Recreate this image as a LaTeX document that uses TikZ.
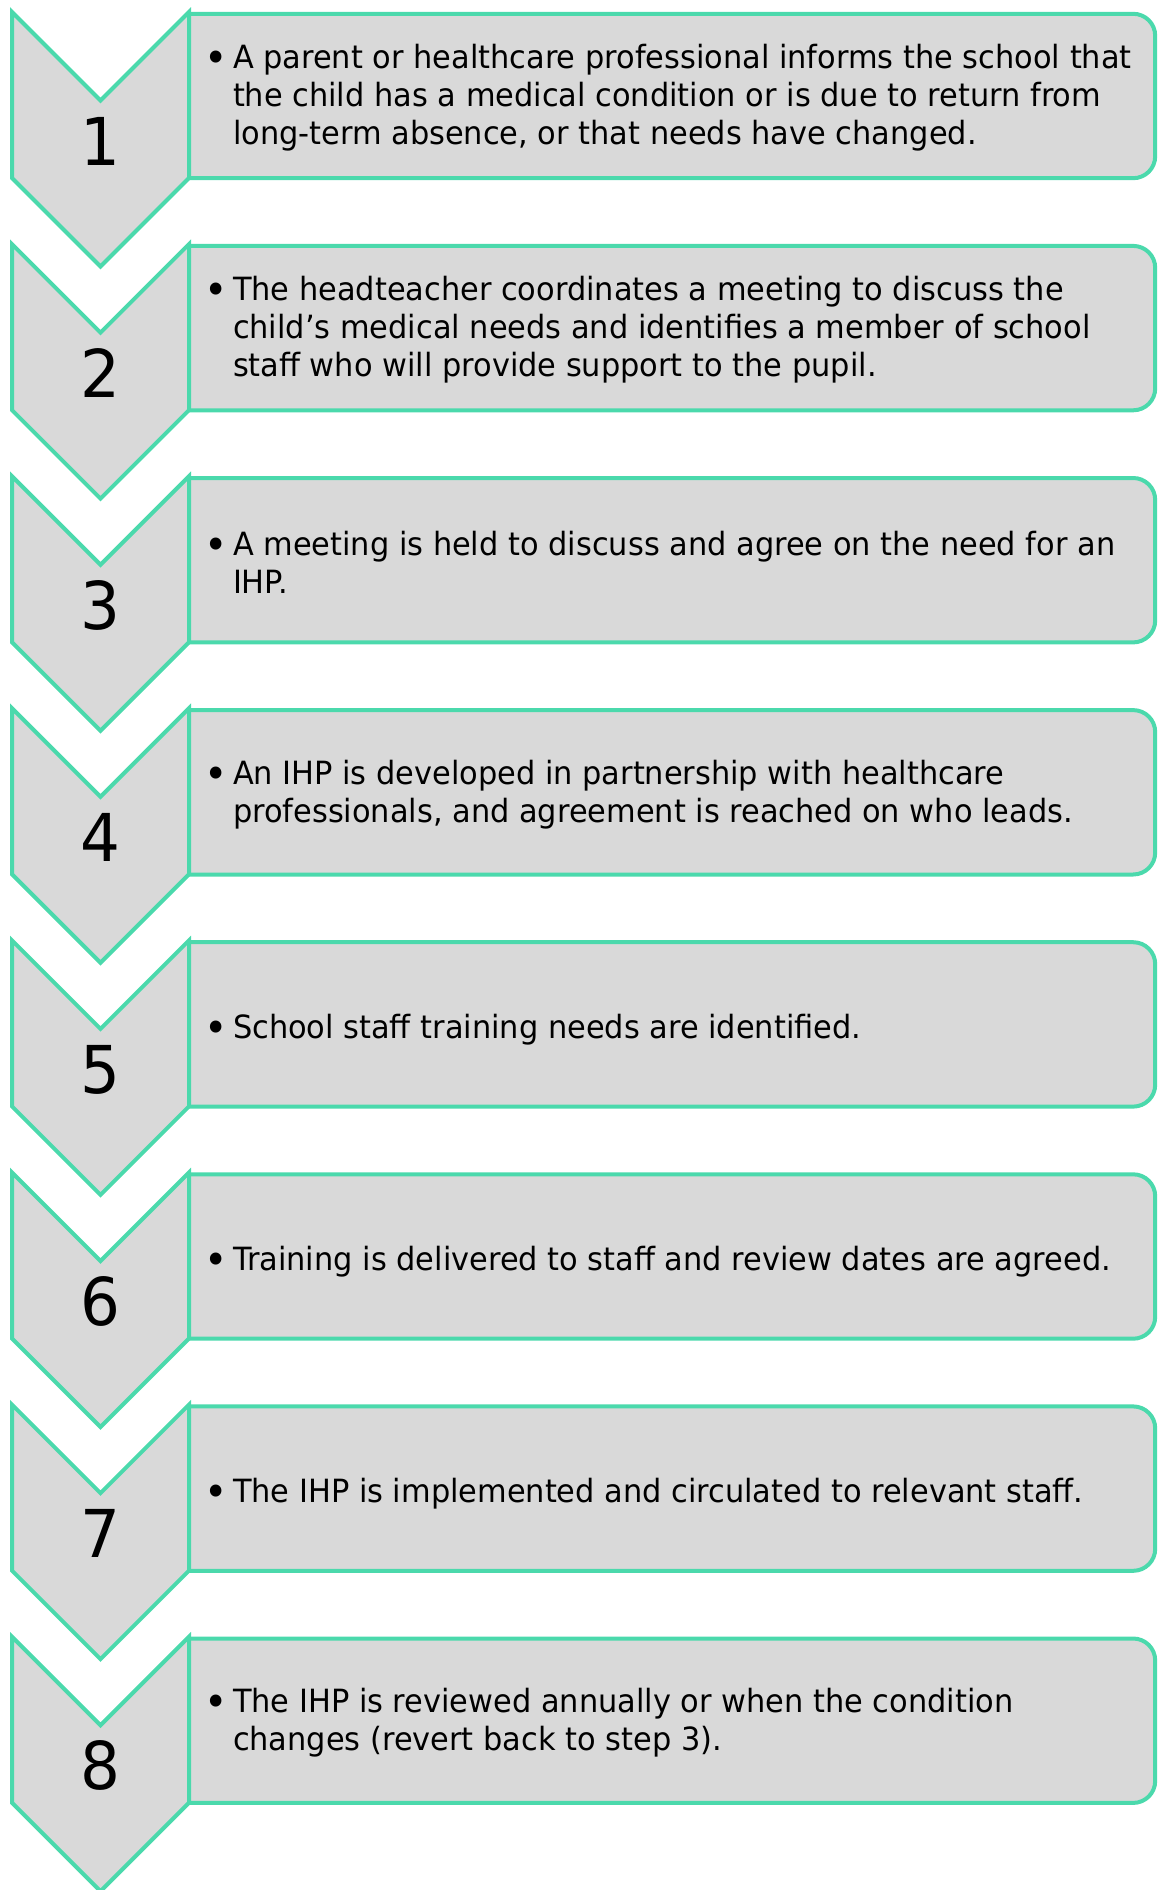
\documentclass[tikz,border=0pt]{standalone}
\usepackage{fontspec}
\setmainfont{DejaVu Sans}[FakeStretch=0.95]
\usetikzlibrary{positioning}
\definecolor{mint}{RGB}{75,217,172}
\definecolor{grau}{RGB}{217,217,217}
\tikzset{
	%Define the chevron on the left
	vinkel/.pic={
		\filldraw[fill=grau, draw=mint, line width=4pt, line join=miter]
		(0,0) -- (88.5,-88.5) -- (177,0) -- (177,-166) -- (88.5,-254.5) -- (0,-166) -- cycle;},
	%Define style for boxes
	boks/.style={
		rectangle,
		minimum width=966pt,
		minimum height=164pt,
		inner sep=0pt},
	% Define frame style
	rahmen/.style={
		fill=grau,
		draw=mint,
		line width=4pt,
		rounded corners=22pt},
	tall/.style={font=\fontsize{66}{70}\selectfont},
	tekst/.style={
		align=left,
		inner sep=0pt,
		yshift=-2pt,
		font=\fontsize{32}{38}\selectfont}
}
\newcommand{\punkt}{\llap{\raisebox{-4pt}{\scalebox{1.3}{\textbullet}}\hspace{5pt}}}

\begin{document}
\begin{tikzpicture}[x=1pt, y=1pt]
	\useasboundingbox (0,0) rectangle (1157,-1890);
	
	\node[boks] (b1) at (672,-96) {};
	\path[rahmen] (b1.north west) -- (b1.north east) -- (b1.south east) -- (b1.south west);
	\pic at (12,-12) {vinkel};
	\node[tall] (n1) at (100.5,-141) {1};
	\node[tekst, right = 44pt of b1.west] (t1) {\punkt A parent or healthcare professional informs the school that\\ the child has a medical condition or is due to return from\\ long-term absence, or that needs have changed.};
	
	\node[boks] (b2) at (672,-328.1) {};
	\path[rahmen] (b2.north west) -- (b2.north east) -- (b2.south east) -- (b2.south west);
	\pic at (12,-244.1) {vinkel};
	\node[tall] (n2) at (100.5,-373.1) {2};
	\node[tekst, right = 44pt of b2.west] (t2) {\punkt The headteacher coordinates a meeting to discuss the\\ child's medical needs and identifies a member of school\\ staff who will provide support to the pupil.};
	
	\node[boks] (b3) at (672,-560.2) {};
	\path[rahmen] (b3.north west) -- (b3.north east) -- (b3.south east) -- (b3.south west);
	\pic at (12,-476.2) {vinkel};
	\node[tall] (n3) at (100.5,-605.2) {3};
	\node[tekst, right = 44pt of b3.west] (t3) {\punkt A meeting is held to discuss and agree on the need for an\\ IHP.};
	
	\node[boks] (b4) at (672,-792.3) {};
	\path[rahmen] (b4.north west) -- (b4.north east) -- (b4.south east) -- (b4.south west);
	\pic at (12,-708.3) {vinkel};
	\node[tall] (n4) at (100.5,-837.3) {4};
	\node[tekst, right = 44pt of b4.west] (t4) {\punkt An IHP is developed in partnership with healthcare\\ professionals, and agreement is reached on who leads.};
	
	\node[boks] (b5) at (672,-1024.4) {};
	\path[rahmen] (b5.north west) -- (b5.north east) -- (b5.south east) -- (b5.south west);
	\pic at (12,-940.4) {vinkel};
	\node[tall] (n5) at (100.5,-1069.4) {5};
	\node[tekst, right = 44pt of b5.west, yshift=-3pt] (t5) {\punkt School staff training needs are identified.};
	
	\node[boks] (b6) at (672,-1256.5) {};
	\path[rahmen] (b6.north west) -- (b6.north east) -- (b6.south east) -- (b6.south west);
	\pic at (12,-1172.5) {vinkel};
	\node[tall] (n6) at (100.5,-1301.5) {6};
	\node[tekst, right = 44pt of b6.west, yshift=-3pt] (t6) {\punkt Training is delivered to staff and review dates are agreed.};
	
	\node[boks] (b7) at (672,-1488.6) {};
	\path[rahmen] (b7.north west) -- (b7.north east) -- (b7.south east) -- (b7.south west);
	\pic at (12,-1404.6) {vinkel};
	\node[tall] (n7) at (100.5,-1533.6) {7};
	\node[tekst, right = 44pt of b7.west, yshift=-3pt] (t7) {\punkt The IHP is implemented and circulated to relevant staff.};
	
	\node[boks] (b8) at (672,-1720.7) {};
	\path[rahmen] (b8.north west) -- (b8.north east) -- (b8.south east) -- (b8.south west);
	\pic at (12,-1636.7) {vinkel};
	\node[tall] (n8) at (100.5,-1765.7) {8};
	\node[tekst, right = 44pt of b8.west] (t8) {\punkt The IHP is reviewed annually or when the condition\\ changes (revert back to step 3).};
	
\end{tikzpicture}
\end{document}
